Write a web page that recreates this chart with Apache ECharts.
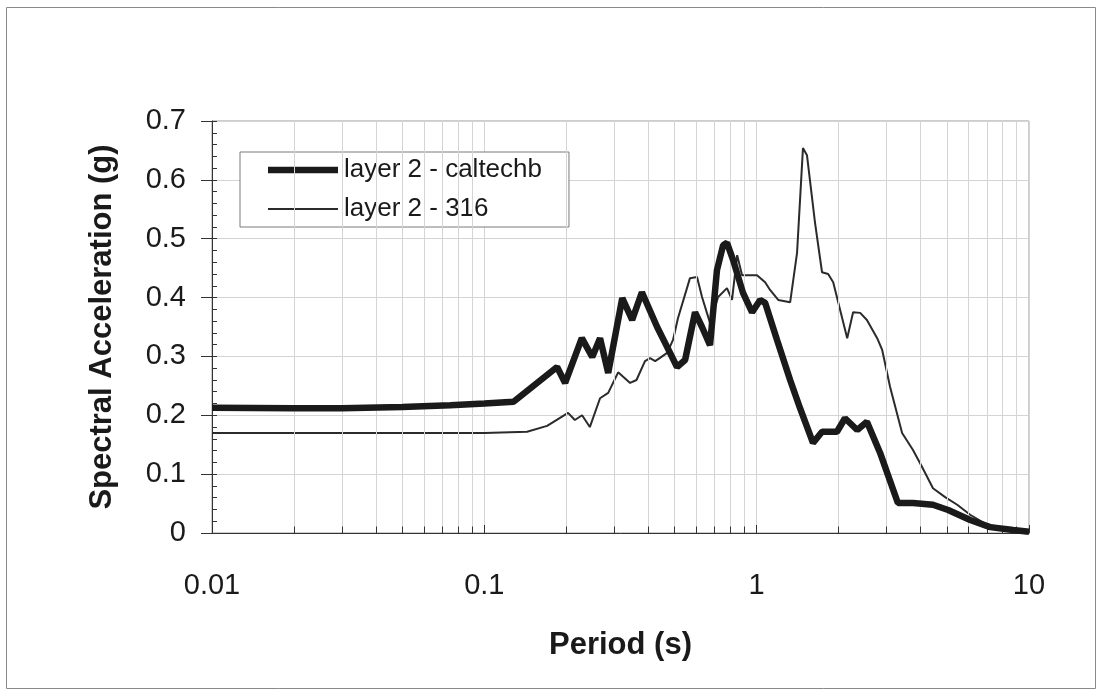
<!DOCTYPE html>
<html>
<head>
<meta charset="utf-8">
<script src="https://cdn.jsdelivr.net/npm/echarts@6/dist/echarts.min.js"></script>
<style>
  html, body { margin: 0; padding: 0; background: #ffffff; }
  #chart { width: 1103px; height: 696px; }
</style>
</head>
<body>
<div id="chart"></div>
<script>
// Response spectra, layer 2
var seriesNames = ['layer 2 - caltechb', 'layer 2 - 316'];

var caltechbPeriod = [0.01, 0.02, 0.03, 0.05, 0.075, 0.1, 0.128, 0.185, 0.198, 0.228, 0.249, 0.266, 0.285, 0.321, 0.349, 0.379, 0.431, 0.461, 0.51, 0.546, 0.594, 0.63, 0.674, 0.715, 0.753, 0.778, 0.819, 0.891, 0.962, 1.03, 1.074, 1.188, 1.327, 1.443, 1.61, 1.738, 1.972, 2.11, 2.34, 2.54, 2.84, 3.3, 3.75, 4.44, 5.05, 6.08, 7.2, 8.75, 10];
var caltechbSA = [0.213, 0.212, 0.212, 0.214, 0.217, 0.22, 0.223, 0.282, 0.255, 0.331, 0.299, 0.331, 0.272, 0.399, 0.362, 0.409, 0.35, 0.323, 0.282, 0.294, 0.375, 0.35, 0.319, 0.447, 0.489, 0.493, 0.464, 0.408, 0.375, 0.396, 0.391, 0.328, 0.26, 0.212, 0.153, 0.172, 0.172, 0.195, 0.175, 0.189, 0.136, 0.051, 0.051, 0.048, 0.039, 0.022, 0.01, 0.005, 0.002];

var s316Period = [0.01, 0.05, 0.1, 0.1435, 0.17, 0.203, 0.215, 0.2285, 0.244, 0.266, 0.285, 0.31, 0.343, 0.362, 0.389, 0.406, 0.424, 0.443, 0.469, 0.493, 0.514, 0.569, 0.604, 0.63, 0.674, 0.722, 0.778, 0.812, 0.848, 0.884, 0.929, 1.003, 1.074, 1.12, 1.2, 1.327, 1.407, 1.479, 1.53, 1.638, 1.738, 1.83, 1.91, 2.15, 2.26, 2.4, 2.54, 2.77, 2.89, 3.09, 3.42, 3.75, 4.05, 4.44, 4.92, 5.45, 6.08, 7.02, 8.31, 10];
var s316SA = [0.17, 0.17, 0.17, 0.172, 0.182, 0.204, 0.192, 0.2, 0.18, 0.229, 0.238, 0.273, 0.255, 0.26, 0.292, 0.297, 0.292, 0.298, 0.306, 0.328, 0.365, 0.433, 0.435, 0.401, 0.357, 0.401, 0.416, 0.396, 0.472, 0.438, 0.438, 0.438, 0.426, 0.413, 0.396, 0.392, 0.476, 0.654, 0.642, 0.527, 0.443, 0.44, 0.426, 0.331, 0.375, 0.374, 0.362, 0.331, 0.311, 0.248, 0.17, 0.141, 0.112, 0.076, 0.061, 0.048, 0.031, 0.014, 0.008, 0.002];

var xTickLabels = ['0.01', '0.1', '1', '10'];
var yTickLabels = ['0', '0.1', '0.2', '0.3', '0.4', '0.5', '0.6', '0.7'];

// intermediate log grid positions (2..9 within each decade)
var decadeStarts = [0.01, 0.1, 1];
var minorPeriods = [];
decadeStarts.forEach(function (d) {
  for (var k = 2; k <= 9; k++) minorPeriods.push(+(d * k).toPrecision(3));
});

function pairs(xs, ys) {
  return xs.map(function (x, i) { return [x, ys[i]]; });
}

var FONT = '"Liberation Sans", Arial, sans-serif';
var THICK = 6.5, THIN = 2;

var gridLines = minorPeriods.map(function (p) { return { xAxis: p }; });
var minorTickMarks = minorPeriods.map(function (p) {
  return [{ coord: [p, 0] }, { coord: [p, 0.011] }];
});

var chart = echarts.init(document.getElementById('chart'), null, { renderer: 'canvas' });
chart.setOption({
  animation: false,
  backgroundColor: '#ffffff',
  graphic: [{
    type: 'rect',
    shape: { x: 6.5, y: 7.5, width: 1089, height: 681 },
    style: { fill: 'none', stroke: '#8a8a8a', lineWidth: 1 },
    silent: true,
    z: 0
  }],
  grid: {
    left: 212, right: 74, top: 121, bottom: 163,
    show: true, borderColor: '#9a9a9a', borderWidth: 1, backgroundColor: 'transparent'
  },
  legend: {
    orient: 'vertical',
    left: 240, top: 152,
    padding: [5, 27, 5, 28],
    itemWidth: 70, itemHeight: 26, itemGap: 13,
    symbolKeepAspect: true,
    backgroundColor: '#ffffff',
    borderColor: '#7a7a7a', borderWidth: 1,
    textStyle: { fontFamily: FONT, fontSize: 26, color: '#1a1a1a', padding: [0, 0, 0, 1] },
    data: [
      { name: seriesNames[0], icon: 'path://M0,0H70V' + THICK + 'H0Z', itemStyle: { color: '#1a1a1a', borderWidth: 0 } },
      { name: seriesNames[1], icon: 'path://M0,0H70V' + THIN + 'H0Z', itemStyle: { color: '#2b2b2b', borderWidth: 0 } }
    ]
  },
  xAxis: {
    type: 'log', logBase: 10, min: 0.01, max: 10,
    axisLine: { show: true, onZero: false, lineStyle: { color: '#333', width: 1 } },
    axisTick: { show: true, inside: true, length: 8, lineStyle: { color: '#333' } },
    axisLabel: {
      margin: 38, fontFamily: FONT, fontSize: 29, color: '#1a1a1a',
      formatter: function (v) {
        var i = Math.round(Math.log10(v)) + 2;
        return xTickLabels[i] !== undefined ? xTickLabels[i] : '';
      }
    },
    splitLine: { show: true, lineStyle: { color: '#d4d4d4', width: 1 } },
    name: 'Period (s)', nameLocation: 'middle', nameGap: 97,
    nameTextStyle: { fontFamily: FONT, fontSize: 31, fontWeight: 'bold', color: '#1a1a1a' }
  },
  yAxis: [{
    type: 'value', min: 0, max: 0.7, interval: 0.1,
    axisLine: { show: true, lineStyle: { color: '#333', width: 1 } },
    axisTick: { show: true, inside: false, length: 11, lineStyle: { color: '#333' } },
    axisLabel: {
      margin: 26, fontFamily: FONT, fontSize: 29, color: '#1a1a1a',
      formatter: function (v) { return yTickLabels[Math.round(v * 10)]; }
    },
    splitLine: { show: true, lineStyle: { color: '#d4d4d4', width: 1 } },
    name: 'Spectral Acceleration (g)', nameLocation: 'middle', nameGap: 94,
    nameTextStyle: { fontFamily: FONT, fontSize: 31, fontWeight: 'bold', color: '#1a1a1a' }
  }, {
    type: 'value', min: 0, max: 0.7, interval: 0.1, position: 'left',
    axisLine: { show: false },
    axisTick: { show: true, inside: true, length: 5, lineStyle: { color: '#333' } },
    minorTick: { show: true, splitNumber: 5, length: 5, lineStyle: { color: '#333' } },
    axisLabel: { show: false },
    splitLine: { show: false }
  }],
  series: [{
    name: 'grid',
    type: 'line',
    data: [],
    silent: true,
    z: 1,
    markLine: {
      silent: true, symbol: ['none', 'none'], label: { show: false },
      lineStyle: { color: '#d4d4d4', width: 1, type: 'solid' },
      emphasis: { disabled: true },
      data: gridLines
    }
  }, {
    name: 'ticks',
    type: 'line',
    data: [],
    silent: true,
    z: 3,
    markLine: {
      silent: true, symbol: ['none', 'none'], label: { show: false },
      lineStyle: { color: '#333', width: 1, type: 'solid' },
      emphasis: { disabled: true },
      data: minorTickMarks
    }
  }, {
    name: seriesNames[1],
    type: 'line',
    data: pairs(s316Period, s316SA),
    showSymbol: false, symbol: 'none',
    lineStyle: { color: '#2b2b2b', width: THIN },
    itemStyle: { color: '#2b2b2b' },
    z: 4
  }, {
    name: seriesNames[0],
    type: 'line',
    data: pairs(caltechbPeriod, caltechbSA),
    showSymbol: false, symbol: 'none',
    lineStyle: { color: '#1a1a1a', width: THICK },
    itemStyle: { color: '#1a1a1a' },
    z: 5
  }]
});
</script>
</body>
</html>
